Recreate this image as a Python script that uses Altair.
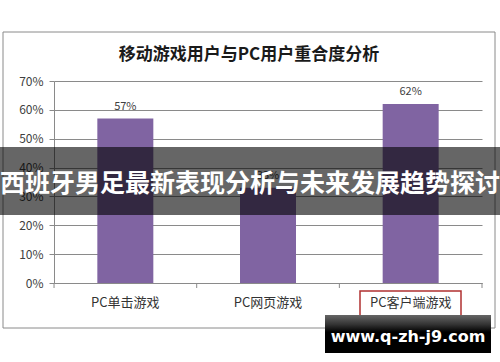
import altair as alt
import pandas as pd

categories = ["PC单击游戏", "PC网页游戏", "PC客户端游戏"]
values = [0.57, 0.33, 0.62]
value_labels = ["57%", "33%", "62%"]
y_ticks = [0.0, 0.1, 0.2, 0.3, 0.4, 0.5, 0.6, 0.7]

chart_title = "移动游戏用户与PC用户重合度分析"
banner_text = "西班牙男足最新表现分析与未来发展趋势探讨"
watermark_text = "www.q-zh-j9.com"

FONT = "Noto Sans CJK SC"
W, H = 428, 202

df = pd.DataFrame({"category": categories, "value": values, "label": value_labels})
one = pd.DataFrame({"k": [0]})

xscale = alt.Scale(domain=categories, paddingInner=0.6075, paddingOuter=0.30375)
yscale = alt.Scale(domain=[0, 0.7])

x_axis = alt.Axis(title=None, labelFont=FONT, labelFontSize=13, labelColor="#333333",
                  labelAngle=0, ticks=False, tickSize=0, labelPadding=13, labelOverlap=False,
                  domainColor="#8a8a8a", domainWidth=1, grid=False, zindex=0)
y_axis = alt.Axis(title=None, values=y_ticks, tickCount=8, format=".0%",
                  labelFont=FONT, labelFontSize=12, labelColor="#404040", labelOverlap=False,
                  tickSize=5, tickColor="#8a8a8a", labelPadding=6,
                  domainColor="#8a8a8a", gridColor="#8a8a8a", grid=True, zindex=0)

X = alt.X("category:N", sort=categories, scale=xscale, axis=x_axis)
Y = alt.Y("value:Q", scale=yscale, axis=y_axis)

base = alt.Chart(df)

outer_box = alt.Chart(one).mark_rect(fill=None, stroke="#8a8a8a", strokeWidth=1).encode(
    x=alt.value(-51), x2=alt.value(441), y=alt.value(-49), y2=alt.value(247)
)

title_text = alt.Chart(one).mark_text(
    text=chart_title, font=FONT, fontSize=17, fontWeight="bold", color="#1a1a1a",
    align="center", baseline="middle"
).encode(x=alt.value(195), y=alt.value(-26))

bars = base.mark_bar(color="#8064A2").encode(x=X, y=Y)

xticks_left = base.mark_rule(color="#8a8a8a", xOffset=-71.3).encode(
    x=X, y=alt.value(H), y2=alt.value(H + 5),
)
xtick_right = alt.Chart(one).mark_rule(color="#8a8a8a").encode(
    x=alt.value(W), y=alt.value(H), y2=alt.value(H + 5)
)

labels = base.mark_text(font=FONT, fontSize=11, color="#404040", baseline="bottom", dy=-7).encode(
    x=X, y=Y, text="label:N",
)

red_box = alt.Chart(one).mark_rect(fill=None, stroke="#b03030", strokeWidth=1.5).encode(
    x=alt.value(306), x2=alt.value(407), y=alt.value(210), y2=alt.value(237)
)

banner = alt.Chart(one).mark_rect(fill="black", opacity=0.6).encode(
    x=alt.value(-54), x2=alt.value(446), y=alt.value(66), y2=alt.value(134)
)
banner_label = alt.Chart(one).mark_text(
    text=banner_text, font=FONT, fontSize=25, fontWeight="bold", color="white",
    align="center", baseline="middle"
).encode(x=alt.value(196), y=alt.value(103))

wm_box = alt.Chart(one).mark_rect(
    fill=alt.Gradient(gradient="linear", x1=0, x2=0, y1=0, y2=1,
                      stops=[alt.GradientStop(color="#666666", offset=0),
                             alt.GradientStop(color="#333333", offset=0.25),
                             alt.GradientStop(color="#000000", offset=0.45),
                             alt.GradientStop(color="#000000", offset=1)])
).encode(x=alt.value(271), x2=alt.value(437), y=alt.value(234), y2=alt.value(272))
wm_label = alt.Chart(one).mark_text(
    text=watermark_text, font="DejaVu Sans", fontSize=16, fontWeight="bold", color="white",
    align="center", baseline="middle"
).encode(x=alt.value(354), y=alt.value(256))

chart = alt.layer(
    outer_box, title_text, bars, xticks_left, xtick_right, labels, red_box,
    banner, banner_label, wm_box, wm_label
).properties(
    width=W, height=H,
    padding={"left": 54, "top": 81, "right": 18, "bottom": 79},
    autosize=alt.AutoSizeParams(type="none"),
    background="white",
).configure_view(stroke=None)

chart.save("out.html", embed_options={"renderer": "svg", "actions": False})
